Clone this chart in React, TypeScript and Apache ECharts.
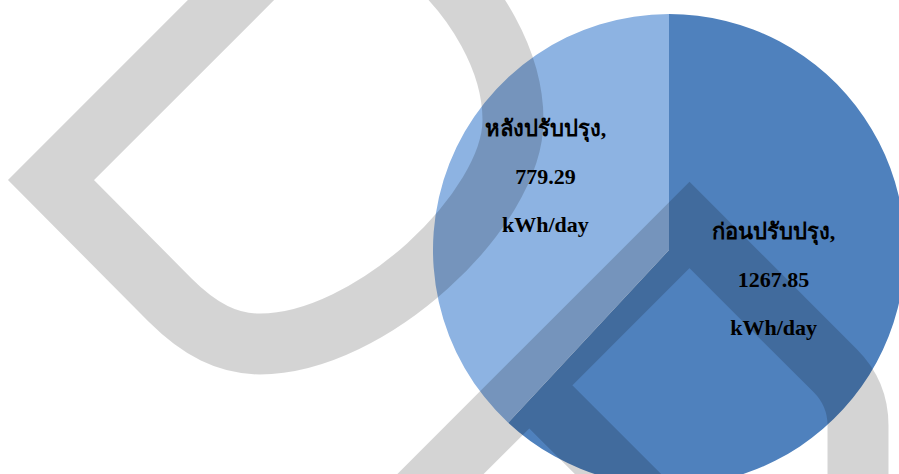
import React, { useEffect, useRef } from 'react';
import * as echarts from 'echarts';

// Data
const categories: string[] = ['ก่อนปรับปรุง', 'หลังปรับปรุง'];
const values: number[] = [1267.85, 779.29];
const unit = 'kWh/day';

// Styling
const sliceColors = ['#4F81BD', '#8DB3E2'];
const labelOffsets: [number, number][] = [[-8, -15], [-11, -29]];

// Watermark outlines (stroked shapes)
const WM1 =
  'M 51 180 L 300 -69 C 360 -129 513 0 513 120 C 513 210 370 344 260 344 C 228 344 200 330 170 300 Z';
const WM2 =
  'M 380 534.5 L 689.5 225 L 835.3 370.8 Q 858 393.5 858 425.5 L 858 620 L 764 620 L 529 385';

echarts.graphic.registerShape('wm1', echarts.graphic.extendPath(WM1, {}));
echarts.graphic.registerShape('wm2', echarts.graphic.extendPath(WM2, {}));

export default function App() {
  const ref = useRef<HTMLDivElement>(null);

  useEffect(() => {
    if (!ref.current) return;
    const chart = echarts.init(ref.current, null, { renderer: 'svg' });
    const wmStyle = {
      fill: 'none',
      stroke: 'rgba(0,0,0,0.17)',
      lineWidth: 61,
      lineJoin: 'miter',
      miterLimit: 10,
    };
    chart.setOption({
      animation: false,
      backgroundColor: '#ffffff',
      series: [
        {
          type: 'pie',
          center: [669, 250],
          radius: 236,
          startAngle: 90,
          clockwise: true,
          avoidLabelOverlap: false,
          silent: true,
          itemStyle: { borderWidth: 0 },
          emphasis: { disabled: true },
          labelLine: { show: false },
          label: {
            show: true,
            position: 'inside',
            formatter: '{b},\n{c}\n' + unit,
            fontFamily: "'Times New Roman', 'Liberation Serif', serif",
            fontSize: 22,
            fontWeight: 'bold',
            color: '#000000',
            lineHeight: 48,
            align: 'center',
          },
          data: categories.map((name, i) => ({
            name,
            value: values[i],
            itemStyle: { color: sliceColors[i] },
            label: { offset: labelOffsets[i] },
          })),
        },
      ],
      graphic: [
        { type: 'wm1', x: 0, y: 0, z: 100, silent: true, style: wmStyle },
        { type: 'wm2', x: 0, y: 0, z: 100, silent: true, style: wmStyle },
      ],
    });
    return () => chart.dispose();
  }, []);

  return (
    <div
      ref={ref}
      style={{ position: 'fixed', left: 0, top: 0, width: 899, height: 474, background: '#fff' }}
    />
  );
}
